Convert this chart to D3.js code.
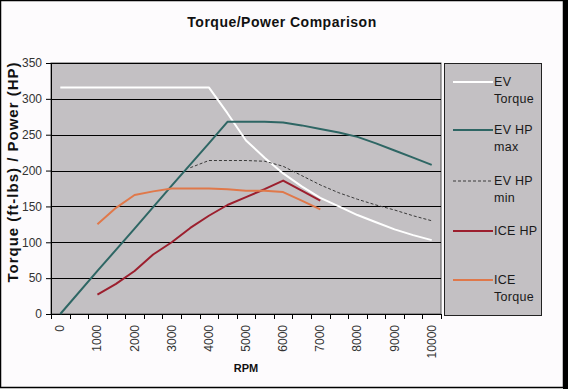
<!doctype html>
<html>
<head>
<meta charset="utf-8">
<script src="https://cdnjs.cloudflare.com/ajax/libs/d3/7.8.5/d3.min.js"></script>
<style>
  body { margin: 0; background: #fdfbfd; }
  svg { font-family: "Liberation Sans", Arial, sans-serif; }
</style>
</head>
<body>
<svg width="568" height="389"></svg>
<script>
// series values, [rpm, value]
var evTorque = [[0, 316], [1000, 316], [2000, 316], [3000, 316], [4000, 316], [4500, 280], [5000, 242],
  [5500, 218], [6000, 196], [6500, 178], [7000, 162], [7500, 150], [8000, 138], [8500, 128],
  [9000, 118], [9500, 110], [10000, 103]];
var evHpMax = [[0, 0], [1000, 60], [2000, 119], [3000, 179], [4000, 238], [4500, 268], [5000, 268],
  [5500, 268], [6000, 267], [6500, 263], [7000, 258], [7500, 253], [8000, 247], [8500, 238],
  [9000, 228], [9500, 218], [10000, 208]];
var evHpMin = [[3500, 204], [4000, 214], [4500, 214], [5000, 214], [5500, 213], [6000, 206],
  [6500, 193], [7000, 180], [7500, 169], [8000, 160], [8500, 152], [9000, 145], [9500, 137], [10000, 130]];
var iceHp = [[1000, 27], [1500, 42], [2000, 60], [2500, 83], [3000, 100], [3500, 120], [4000, 137],
  [4500, 152], [5000, 163], [5500, 174], [6000, 186], [6500, 172], [7000, 158]];
var iceTorque = [[1000, 125], [1500, 148], [2000, 166], [2500, 171], [3000, 175], [3500, 175],
  [4000, 175], [4500, 174], [5000, 172], [5500, 172], [6000, 170], [6500, 158], [7000, 146]];

var rpmLabels = [0, 1000, 2000, 3000, 4000, 5000, 6000, 7000, 8000, 9000, 10000];
var yTicks = [0, 50, 100, 150, 200, 250, 300, 350];

var series = [
  { name: ["EV", "Torque"], data: evTorque, color: "#ffffff", width: 2, dash: null },
  { name: ["EV HP", "max"], data: evHpMax, color: "#2e6664", width: 2, dash: null },
  { name: ["EV HP", "min"], data: evHpMin, color: "#3a3a3a", width: 1, dash: "3,2" },
  { name: ["ICE HP"], data: iceHp, color: "#9c1f2e", width: 2, dash: null },
  { name: ["ICE", "Torque"], data: iceTorque, color: "#e0784a", width: 2, dash: null }
];

var svg = d3.select("svg");
var plotL = 51, plotR = 441, plotT = 63, plotB = 314;

// outer frame
svg.append("rect").attr("x", 0.5).attr("y", 0.5).attr("width", 563).attr("height", 387)
  .attr("fill", "#fdfbfd").attr("stroke", "#000").attr("stroke-width", 1.5);
svg.append("rect").attr("x", 563).attr("y", 0).attr("width", 5).attr("height", 389).attr("fill", "#000");

// category axis: 21 slots of 500 rpm, labels on every other one
var x = d3.scaleLinear().domain([-250, 10250]).range([plotL, plotR]);
var y = d3.scaleLinear().domain([0, 350]).range([plotB, plotT]);

svg.append("rect").attr("x", plotL).attr("y", plotT).attr("width", plotR - plotL).attr("height", plotB - plotT)
  .attr("fill", "#c3c0c3").attr("stroke", "#555").attr("stroke-width", 1);

svg.append("g").selectAll("line").data(yTicks.slice(1)).enter().append("line")
  .attr("x1", plotL).attr("x2", plotR)
  .attr("y1", function(d) { return Math.round(y(d)) + 0.5; })
  .attr("y2", function(d) { return Math.round(y(d)) + 0.5; })
  .attr("stroke", "#000").attr("stroke-width", 1);

var yAxis = svg.append("g").attr("transform", "translate(" + plotL + ",0)")
  .call(d3.axisLeft(y).tickValues(yTicks).tickSize(5).tickPadding(4));
yAxis.select(".domain").attr("stroke", "#000");
yAxis.selectAll("text").attr("font-size", 12).attr("fill", "#333")
  .attr("font-family", "'Liberation Sans', Arial, sans-serif");

var bounds = d3.range(-250, 10251, 500);
var xAxis = svg.append("g").attr("transform", "translate(0," + plotB + ")");
xAxis.append("line").attr("x1", plotL).attr("x2", plotR).attr("y1", 0.5).attr("y2", 0.5).attr("stroke", "#000");
xAxis.selectAll("line.tick").data(bounds).enter().append("line").attr("class", "tick")
  .attr("x1", function(d) { return Math.round(x(d)) + 0.5; })
  .attr("x2", function(d) { return Math.round(x(d)) + 0.5; })
  .attr("y1", 0).attr("y2", 5).attr("stroke", "#000");
xAxis.selectAll("text").data(rpmLabels).enter().append("text")
  .attr("transform", function(d) { return "translate(" + (x(d) + 4) + ",11) rotate(-90)"; })
  .attr("text-anchor", "end").attr("font-size", 12).attr("fill", "#333")
  .text(function(d) { return d; });

var line = d3.line().x(function(d) { return x(d[0]); }).y(function(d) { return y(d[1]); });

series.forEach(function(s) {
  svg.append("path").datum(s.data).attr("d", line)
    .attr("fill", "none").attr("stroke", s.color).attr("stroke-width", s.width)
    .attr("stroke-dasharray", s.dash).attr("stroke-linejoin", "round");
});

// titles
svg.append("text").attr("x", 282).attr("y", 27).attr("text-anchor", "middle")
  .attr("font-size", 14).attr("font-weight", "bold").attr("letter-spacing", 0.5).attr("fill", "#111")
  .text("Torque/Power Comparison");
svg.append("text").attr("transform", "translate(18,172) rotate(-90)").attr("text-anchor", "middle")
  .attr("font-size", 15).attr("font-weight", "bold").attr("letter-spacing", 1).attr("fill", "#111")
  .text("Torque (ft-lbs) / Power (HP)");
svg.append("text").attr("x", 246).attr("y", 372).attr("text-anchor", "middle")
  .attr("font-size", 11).attr("font-weight", "bold").attr("fill", "#111").text("RPM");

// legend
var lg = svg.append("g");
lg.append("rect").attr("x", 444.5).attr("y", 63.5).attr("width", 97).attr("height", 252)
  .attr("fill", "#c3c0c3").attr("stroke", "#222").attr("stroke-width", 1);
var legendY = [82, 130, 181, 231, 280];
series.forEach(function(s, i) {
  var ly = legendY[i];
  lg.append("line").attr("x1", 453).attr("x2", 493).attr("y1", ly).attr("y2", ly)
    .attr("stroke", s.color).attr("stroke-width", s.width).attr("stroke-dasharray", s.dash);
  var t = lg.append("text").attr("x", 494).attr("y", ly + 4).attr("font-size", 12.5)
    .attr("fill", "#1a1a1a").attr("letter-spacing", 0.3);
  s.name.forEach(function(n, j) {
    t.append("tspan").attr("x", 494).attr("dy", j === 0 ? 0 : 16.5).text(n);
  });
});
</script>
</body>
</html>
